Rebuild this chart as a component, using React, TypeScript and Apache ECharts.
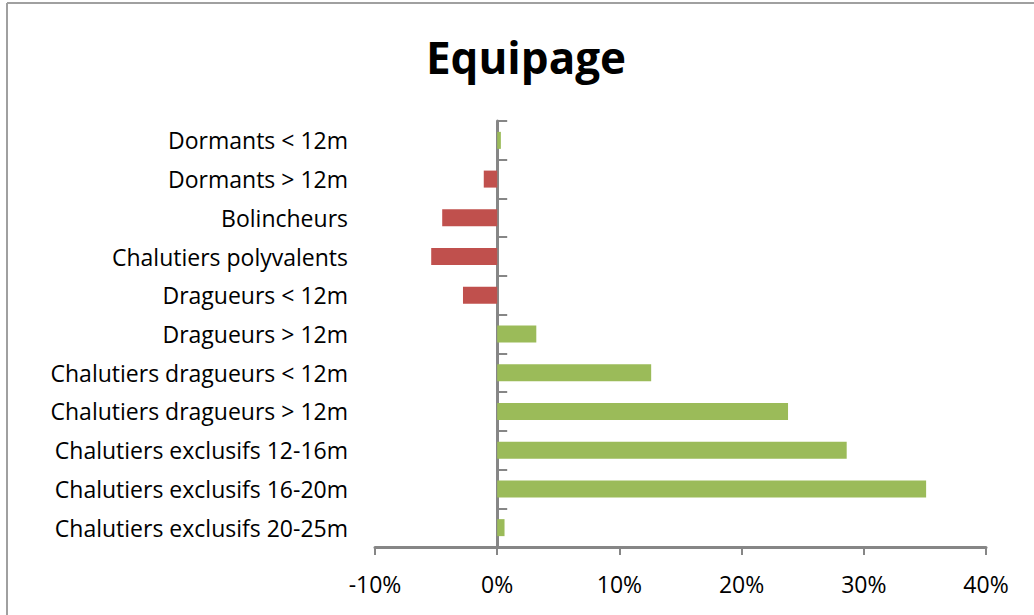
import React, { useEffect, useRef } from "react";
import * as echarts from "echarts";

const categories = [
  "Dormants < 12m",
  "Dormants > 12m",
  "Bolincheurs",
  "Chalutiers polyvalents",
  "Dragueurs < 12m",
  "Dragueurs > 12m",
  "Chalutiers dragueurs < 12m",
  "Chalutiers dragueurs > 12m",
  "Chalutiers exclusifs 12-16m",
  "Chalutiers exclusifs 16-20m",
  "Chalutiers exclusifs 20-25m",
];
const values = [0.3, -1.1, -4.5, -5.4, -2.8, 3.2, 12.6, 23.8, 28.6, 35.1, 0.6];
const xTicks = { min: -10, max: 40, interval: 10 };
const titleText = "Equipage";

const GREEN = "#9BBB59";
const RED = "#C0504D";
const AXIS = "#868686";
const FONT = "'Open Sans', 'Noto Sans', sans-serif";

export default function App() {
  const ref = useRef<HTMLDivElement>(null);
  useEffect(() => {
    if (!ref.current) return;
    const chart = echarts.init(ref.current, null, { renderer: "svg" });
    chart.setOption({
      animation: false,
      backgroundColor: "#ffffff",
      title: {
        text: titleText,
        left: 521,
        textAlign: "center",
        top: 30,
        textStyle: { fontFamily: FONT, fontSize: 44, fontWeight: "bold", color: "#000" },
      },
      graphic: [
        { type: "line", shape: { x1: 7, y1: 3, x2: 1034, y2: 3 }, style: { stroke: "#a0a0a0", lineWidth: 2 } },
        { type: "line", shape: { x1: 7, y1: 3, x2: 7, y2: 615 }, style: { stroke: "#a0a0a0", lineWidth: 2 } },
      ],
      grid: { left: 375, right: 48, top: 121, bottom: 68, containLabel: false },
      xAxis: {
        type: "value",
        min: xTicks.min,
        max: xTicks.max,
        interval: xTicks.interval,
        axisLine: { show: true, onZero: false, lineStyle: { color: AXIS, width: 3 } },
        axisTick: { show: true, length: 8, lineStyle: { color: AXIS, width: 2 } },
        splitLine: { show: false },
        axisLabel: {
          formatter: "{value}%",
          fontFamily: FONT,
          fontSize: 23,
          color: "#000",
          margin: 25,
        },
      },
      yAxis: [
        {
          type: "category",
          data: categories,
          inverse: true,
          axisLine: { show: false, onZero: false },
          axisTick: { show: false },
          axisLabel: { fontFamily: FONT, fontSize: 23, color: "#000", margin: 27, padding: [3, 0, 0, 0] },
        },
        {
          type: "category",
          data: categories,
          inverse: true,
          position: "left",
          axisLine: { show: true, onZero: true, lineStyle: { color: AXIS, width: 3 } },
          axisTick: { show: true, inside: true, length: 10, lineStyle: { color: AXIS, width: 2 } },
          axisLabel: { show: false },
        },
      ],
      series: [
        {
          type: "bar",
          yAxisIndex: 0,
          barWidth: 17,
          data: values.map((v) => ({ value: v, itemStyle: { color: v < 0 ? RED : GREEN } })),
        },
      ],
    });
    return () => chart.dispose();
  }, []);
  return (
    <div
      ref={ref}
      style={{ position: "fixed", left: 0, top: 0, width: 1034, height: 615 }}
    />
  );
}
